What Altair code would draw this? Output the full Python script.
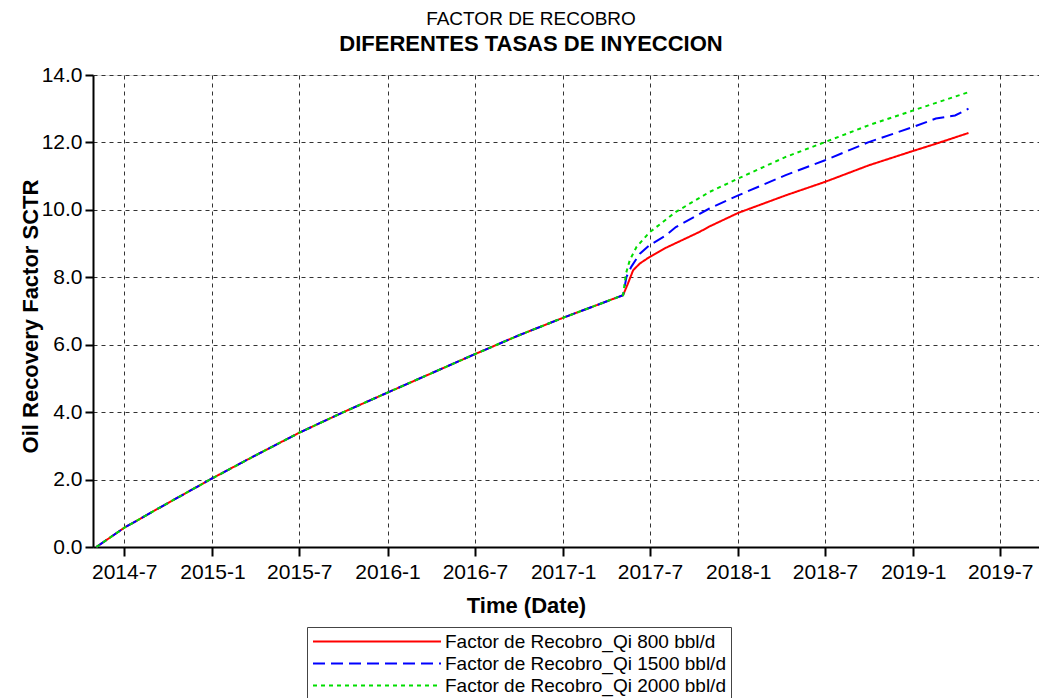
import altair as alt
import pandas as pd

FONT = "Liberation Sans"

SERIES = [
    "Factor de Recobro_Qi 800 bbl/d",
    "Factor de Recobro_Qi 1500 bbl/d",
    "Factor de Recobro_Qi 2000 bbl/d",
]
COLORS = ["#ff0000", "#0000ff", "#00dd00"]
DASHES = [[1, 0], [12, 6], [4, 4]]

# shared history (all three cases identical until injection change)
common_dates = [
    "2014-05-04", "2014-07-01", "2014-10-01", "2015-01-01", "2015-04-01",
    "2015-07-01", "2015-10-01", "2016-01-01", "2016-04-01", "2016-07-01",
    "2016-10-01", "2017-01-01", "2017-03-02", "2017-05-06",
]
common_values = [0.0, 0.57, 1.31, 2.04, 2.72, 3.39, 4.00, 4.58, 5.15, 5.72,
                 6.28, 6.80, 7.12, 7.47]

red_dates = [
    "2017-05-16", "2017-05-27", "2017-06-10", "2017-06-30", "2017-08-04",
    "2017-10-13", "2017-11-01", "2018-01-01", "2018-04-10", "2018-07-01",
    "2018-09-30", "2019-01-01", "2019-02-17", "2019-04-26",
]
red_values = [7.81, 8.21, 8.41, 8.60, 8.88, 9.35, 9.50, 9.91, 10.43, 10.83,
              11.32, 11.75, 11.96, 12.28]

blue_dates = [
    "2017-05-13", "2017-05-23", "2017-06-10", "2017-06-30", "2017-08-04",
    "2017-08-24", "2017-11-02", "2018-01-01", "2018-04-10", "2018-07-01",
    "2018-09-30", "2019-01-01", "2019-02-17", "2019-03-29", "2019-04-26",
]
blue_values = [8.01, 8.31, 8.70, 8.95, 9.25, 9.49, 10.04, 10.43, 11.03, 11.47,
               12.01, 12.46, 12.71, 12.80, 13.00]

green_dates = [
    "2017-05-12", "2017-05-20", "2017-06-03", "2017-06-30", "2017-08-24",
    "2017-11-02", "2018-01-01", "2018-04-10", "2018-07-01", "2018-09-30",
    "2019-01-01", "2019-04-26",
]
green_values = [8.11, 8.51, 8.90, 9.33, 9.94, 10.53, 10.93, 11.57, 12.01,
                12.51, 12.95, 13.49]

TICK_MONTHS = [(2014, 7), (2015, 1), (2015, 7), (2016, 1), (2016, 7), (2017, 1),
               (2017, 7), (2018, 1), (2018, 7), (2019, 1), (2019, 7)]
Y_TICKS = [0, 2, 4, 6, 8, 10, 12, 14]

rows = []
for name, dates, vals in zip(SERIES,
                             [red_dates, blue_dates, green_dates],
                             [red_values, blue_values, green_values]):
    for d, v in zip(common_dates + dates, common_values + vals):
        rows.append({"series": name, "date": d + "T00:00:00", "value": v})
df = pd.DataFrame(rows)

x_axis = alt.Axis(
    values=[alt.DateTime(year=y, month=m, date=1) for y, m in TICK_MONTHS],
    format="%Y-%-m",
    title="Time (Date)",
    titleFontSize=22, titleFontWeight="bold", titleFont=FONT, titleColor="black",
    titleX=433, titleY=65, titleBaseline="alphabetic", titleAnchor="start", titleAlign="center",
    labelFontSize=21, labelFont=FONT, labelColor="black", labelPadding=5,
    labelFlush=False, labelOverlap=False,
    tickSize=9, tickWidth=2, tickColor="black",
    domainColor="black", domainWidth=2,
    grid=True, gridDash=[4, 4], gridColor="#333", gridWidth=1,
)
y_axis = alt.Axis(
    values=Y_TICKS,
    format=".1f",
    title="Oil Recovery Factor SCTR",
    titleFontSize=22, titleFontWeight="bold", titleFont=FONT, titleColor="black",
    titleX=-56, titleY=241, titleBaseline="alphabetic", titleAngle=270, titleAlign="center",
    labelFontSize=21, labelFont=FONT, labelColor="black", labelPadding=3,
    labelFlush=False, labelOverlap=False,
    tickSize=8, tickWidth=2, tickColor="black",
    domainColor="black", domainWidth=2,
    grid=True, gridDash=[4, 4], gridColor="#333", gridWidth=1,
)

legend_opts = dict(
    title=None, orient="none", legendX=214, legendY=552,
    strokeColor="#444", padding=5, fillColor="white",
    symbolType="M-1,0L14.06,0", symbolSize=289, symbolStrokeWidth=2,
    labelFont=FONT, labelFontSize=19, labelColor="black", labelLimit=500,
    labelOffset=114, rowPadding=2,
)

chart = alt.Chart(df).mark_line(strokeWidth=2).encode(
    x=alt.X("date:T",
            scale=alt.Scale(domain=[alt.DateTime(year=2014, month=4, date=27),
                                    alt.DateTime(year=2019, month=9, date=20)]),
            axis=x_axis),
    y=alt.Y("value:Q", scale=alt.Scale(domain=[0, 14], nice=False), axis=y_axis),
    color=alt.Color("series:N", scale=alt.Scale(domain=SERIES, range=COLORS),
                    legend=alt.Legend(**legend_opts)),
    strokeDash=alt.StrokeDash("series:N", scale=alt.Scale(domain=SERIES, range=DASHES),
                              legend=alt.Legend(**legend_opts)),
).properties(
    width=946,
    height=472,
    autosize=alt.AutoSizeParams(type="none"),
    padding={"left": 85, "top": 67, "right": 0, "bottom": 151},
    title=alt.TitleParams(
        text="FACTOR DE RECOBRO",
        subtitle="DIFERENTES TASAS DE INYECCION",
        font=FONT, fontSize=19, fontWeight="normal", color="black",
        subtitleFont=FONT, subtitleFontSize=22, subtitleFontWeight="bold",
        subtitleColor="black", subtitlePadding=5,
        anchor="middle", dx=-35, offset=9,
    ),
).configure_view(
    stroke="#555", strokeWidth=1,
).configure(background="white")

chart.save("out.html", embed_options={"renderer": "svg", "actions": False})
